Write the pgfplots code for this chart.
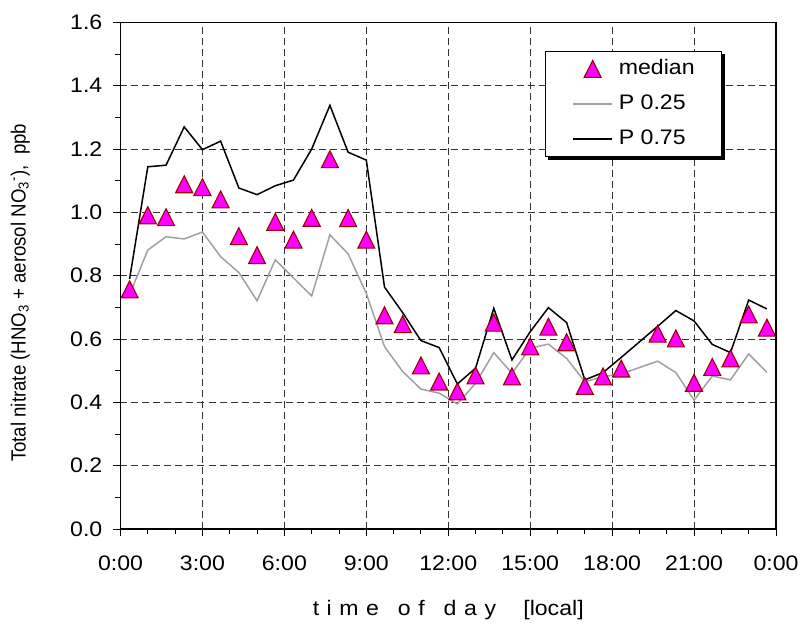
\documentclass[border=0pt]{standalone}
\usepackage{fontspec}
\setmainfont{Liberation Sans}[FakeStretch=1.1]
\newfontfamily\ylfam{Liberation Sans}[FakeStretch=0.91]
\usepackage{pgfplots}
\pgfplotsset{compat=1.18}
\definecolor{mag}{HTML}{FF00FF}
\definecolor{edge}{HTML}{990000}
\definecolor{pgrey}{HTML}{A0A0A0}
\newcommand{\lf}{\fontsize{21bp}{25bp}\selectfont}
\newcommand{\yf}{\ylfam\fontsize{20.5bp}{24bp}\selectfont}
\newcommand{\ls}{\hspace{0.36em}}
\newcommand{\ws}{\hspace{0.9em}}
\begin{document}
\begin{tikzpicture}
\path[use as bounding box] (-120.5bp,-104bp) rectangle (681.5bp,529bp);
\begin{axis}[
  scale only axis, width=655.5bp, height=506.6bp,
  at={(0,0)}, anchor=south west,
  xmin=0, xmax=24, ymin=0, ymax=1.6,
  xtick={0,3,6,9,12,15,18,21,24},
  xticklabels={0:00,3:00,6:00,9:00,12:00,15:00,18:00,21:00,0:00},
  minor x tick num=2,
  ytick={0,0.2,0.4,0.6,0.8,1.0,1.2,1.4,1.6},
  minor y tick num=1,
  yticklabel style={/pgf/number format/.cd, fixed, fixed zerofill, precision=1},
  /pgf/number format/assume math mode=true,
  tick label style={font=\lf, inner sep=0pt},
  xticklabel shift=20bp, yticklabel shift=11bp,
  grid=major,
  grid style={dash pattern=on 7bp off 4bp, line width=0.8bp, black!80},
  tick align=outside, major tick length=7bp, minor tick length=5bp,
  xtick pos=bottom, ytick pos=left,
  axis line style={line width=1.3bp},
  tick style={line width=1bp, black},
  xlabel={t\ls i\ls m\ls e\ws o\ls f\ws d\ls a\ls y\hspace{1.3em}[local]},
  xlabel style={font=\lf, at={(axis description cs:0.5,-0.16)}, anchor=center},
  ylabel={Total nitrate (HNO\textsubscript{3} + aerosol NO\textsubscript{3}\textsuperscript{-}),\ \ ppb},
  ylabel style={font=\yf, at={(axis description cs:-0.153,0.466)}, anchor=center, rotate=0},
  clip=false,
  legend style={name=leg, at={(axis description cs:0.6476,0.9436)}, anchor=north west,
    draw=black, line width=0.8bp, fill=white, font=\lf,
    inner xsep=27bp, inner ysep=8bp, row sep=16bp,
    nodes={inner sep=0pt, text height=15bp, text depth=4bp, anchor=west}},
  legend cell align=left,
  legend image code/.code={\draw[mark repeat=2,mark phase=2] plot coordinates {(0bp,0bp)(19.5bp,0bp)(39bp,0bp)};\path (45bp,0bp);},
]
\addplot[pgrey, line width=1.5bp, forget plot] coordinates {
(0.3333,0.74)(1,0.881)(1.6667,0.923)(2.3333,0.916)(3,0.938)(3.6667,0.860)
(4.3333,0.810)(5,0.721)(5.6667,0.850)(6.3333,0.793)(7,0.736)(7.6667,0.929)
(8.3333,0.869)(9,0.744)(9.6667,0.576)(10.3333,0.497)(11,0.442)(11.6667,0.429)
(12.3333,0.395)(13,0.460)(13.6667,0.557)(14.3333,0.492)(15,0.571)(15.6667,0.584)
(16.3333,0.539)(17,0.465)(17.6667,0.481)(18.3333,0.490)(19.6667,0.530)
(20.3333,0.494)(21,0.407)(21.6667,0.483)(22.3333,0.471)(23,0.553)(23.6667,0.495)};
\addplot[black, line width=1.5bp, forget plot] coordinates {
(0.3333,0.79)(1,1.144)(1.6667,1.149)(2.3333,1.270)(3,1.198)(3.6667,1.225)
(4.3333,1.077)(5,1.056)(5.6667,1.084)(6.3333,1.102)(7,1.200)(7.6667,1.338)
(8.3333,1.190)(9,1.165)(9.6667,0.764)(10.3333,0.683)(11,0.595)(11.6667,0.573)
(12.3333,0.458)(13,0.508)(13.6667,0.697)(14.3333,0.534)(15,0.623)(15.6667,0.699)
(16.3333,0.652)(17,0.471)(17.6667,0.494)(18.3333,0.542)(19.6667,0.640)
(20.3333,0.690)(21,0.657)(21.6667,0.583)(22.3333,0.557)(23,0.723)(23.6667,0.695)};
\addplot[only marks, mark=triangle*, mark size=9.8bp,
  mark options={fill=mag, draw=edge, line width=1.1bp, yscale=1.15, yshift=-2.5bp}] coordinates {
(0.3333,0.757)(1,0.991)(1.6667,0.985)(2.3333,1.089)(3,1.080)(3.6667,1.041)
(4.3333,0.925)(5,0.865)(5.6667,0.970)(6.3333,0.914)(7,0.983)(7.6667,1.168)
(8.3333,0.982)(9,0.914)(9.6667,0.675)(10.3333,0.647)(11,0.517)(11.6667,0.466)
(12.3333,0.435)(13,0.485)(13.6667,0.652)(14.3333,0.482)(15,0.577)(15.6667,0.639)
(16.3333,0.590)(17,0.452)(17.6667,0.482)(18.3333,0.507)(19.6667,0.617)
(20.3333,0.602)(21,0.462)(21.6667,0.512)(22.3333,0.539)(23,0.678)(23.6667,0.636)};
\addlegendentry{median}
\addlegendimage{pgrey, line width=1.5bp}
\addlegendentry{P 0.25}
\addlegendimage{black, line width=1.5bp}
\addlegendentry{P 0.75}
\end{axis}
\fill[black] ([yshift=-3bp]leg.north east) rectangle ([xshift=3bp,yshift=-3bp]leg.south east);
\fill[black] ([xshift=3bp]leg.south west) rectangle ([xshift=3bp,yshift=-3bp]leg.south east);
\end{tikzpicture}
\end{document}
